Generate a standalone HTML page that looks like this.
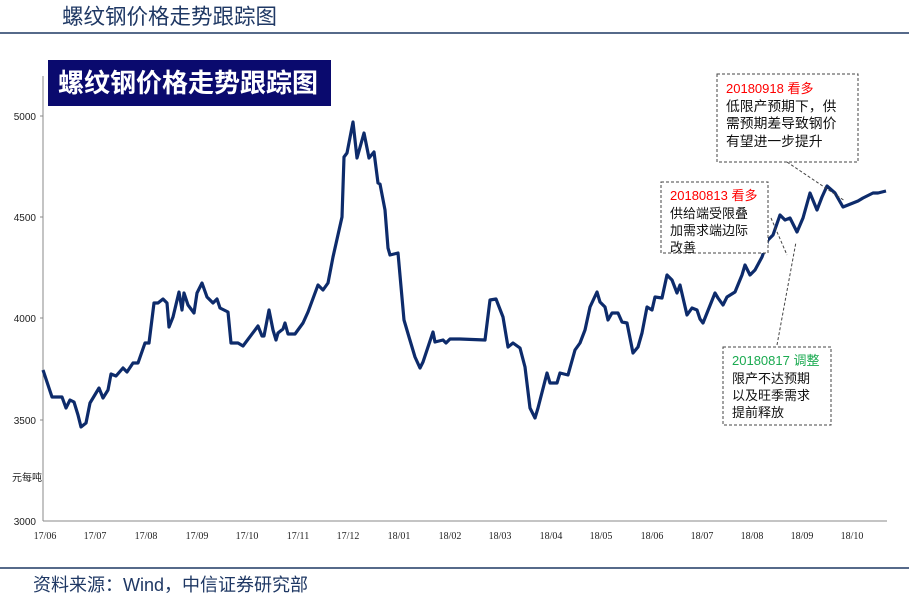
<!DOCTYPE html>
<html><head><meta charset="utf-8"><style>
body{margin:0;background:#fff;width:909px;height:596px;overflow:hidden;font-family:"Liberation Sans","Noto Sans CJK SC",sans-serif;}
</style></head><body>
<svg width="909" height="596" xmlns="http://www.w3.org/2000/svg" style="position:absolute;left:0;top:0">
<text x="62" y="24" font-size="21.5" fill="#1f3864" font-family="Noto Sans CJK SC,sans-serif">螺纹钢价格走势跟踪图</text>
<line x1="0" y1="33" x2="909" y2="33" stroke="#1f3864" stroke-width="1.5"/>
<rect x="48" y="60" width="283" height="46" fill="#0a0a6e"/>
<text x="58" y="92" font-size="26" fill="#fff" font-weight="bold" font-family="Noto Sans CJK SC,sans-serif">螺纹钢价格走势跟踪图</text>
<g stroke="#888" stroke-width="1">
<line x1="43" y1="76" x2="43" y2="521"/>
<line x1="43" y1="521" x2="887" y2="521"/>
<line x1="40" y1="116" x2="43" y2="116"/><line x1="40" y1="217" x2="43" y2="217"/><line x1="40" y1="318" x2="43" y2="318"/><line x1="40" y1="420" x2="43" y2="420"/>
</g>
<g font-size="10" fill="#222" text-anchor="end">
<text x="36" y="120">5000</text><text x="36" y="221">4500</text><text x="36" y="322">4000</text><text x="36" y="424">3500</text><text x="36" y="525">3000</text>
</g>
<text x="12" y="481" font-size="10" fill="#222" font-family="Noto Sans CJK SC,sans-serif">元每吨</text>
<g font-size="10" fill="#222" text-anchor="middle" font-family="Liberation Serif,serif">
<text x="45" y="539">17/06</text><text x="95" y="539">17/07</text><text x="146" y="539">17/08</text><text x="197" y="539">17/09</text><text x="247" y="539">17/10</text><text x="298" y="539">17/11</text><text x="348" y="539">17/12</text><text x="399" y="539">18/01</text><text x="450" y="539">18/02</text><text x="500" y="539">18/03</text><text x="551" y="539">18/04</text><text x="601" y="539">18/05</text><text x="652" y="539">18/06</text><text x="702" y="539">18/07</text><text x="752" y="539">18/08</text><text x="802" y="539">18/09</text><text x="852" y="539">18/10</text>
</g>
<polyline fill="none" stroke="#0d2b6b" stroke-width="3.2" stroke-linejoin="round" points="43,370 52,397 62,397 66,408 70,400 74,402 78,415 81,427 86,423 90,403 99,388 103,398 108,390 111,374 116,376 123,368 127,372 133,363 138,363 145,343 149,343 154,303 158,303 163,299 167,303 169,327 173,317 179,292 182,310 184,293 188,305 194,313 197,293 202,283 207,297 213,303 217,299 220,308 228,312 231,343 238,343 243,346 258,326 262,336 264,336 269,310 273,330 276,340 278,333 283,329 285,323 288,334 295,334 303,323 308,312 318,285 323,290 328,283 333,257 342,217 344,157 347,153 353,122 357,158 364,133 369,158 374,152 378,183 380,184 385,210 388,248 390,255 398,253 404,320 409,337 415,357 420,368 423,362 433,332 435,342 443,340 446,343 450,339 460,339 485,340 490,300 496,299 503,317 508,347 513,343 520,348 525,367 530,408 535,418 538,408 547,373 550,383 557,383 560,373 568,375 575,350 580,343 585,330 590,307 597,292 600,302 605,307 608,320 612,313 618,313 622,322 627,323 633,353 638,347 642,333 647,307 652,310 655,297 662,298 667,275 672,280 677,293 680,285 687,315 692,308 697,310 700,319 703,323 709,308 715,293 718,298 723,305 727,297 735,292 742,275 745,265 750,275 755,270 762,257 768,240 773,235 780,215 785,220 790,218 797,232 803,218 810,193 817,210 822,197 827,186 835,193 843,207 858,201 863,198 873,193 878,193 886,191"/>
<g fill="#fff" stroke="#444" stroke-dasharray="3,2" stroke-width="1">
<rect x="717" y="74" width="141" height="88"/>
<rect x="661" y="182" width="107" height="71"/>
<rect x="723" y="347" width="108" height="78"/>
<line x1="787" y1="162" x2="845" y2="201"/>
<line x1="771" y1="218" x2="787" y2="255"/>
<line x1="777" y1="345" x2="796" y2="242"/>
</g>
<g font-size="13" fill="#111" font-family="Liberation Sans,Noto Sans CJK SC,sans-serif">
<text x="726" y="93" fill="#f00">20180918 看多</text>
<text x="726" y="111" font-size="13.8">低限产预期下，供</text><text x="726" y="128" font-size="13.8">需预期差导致钢价</text><text x="726" y="146" font-size="13.8">有望进一步提升</text>
<text x="670" y="200" fill="#f00">20180813 看多</text>
<text x="670" y="218">供给端受限叠</text><text x="670" y="235">加需求端边际</text><text x="670" y="252">改善</text>
<text x="732" y="365" fill="#1aaa50">20180817 调整</text>
<text x="732" y="383">限产不达预期</text><text x="732" y="400">以及旺季需求</text><text x="732" y="417">提前释放</text>
</g>
<line x1="0" y1="568" x2="909" y2="568" stroke="#1f3864" stroke-width="1.5"/>
<text x="33" y="591" font-size="18" fill="#1f3864" font-family="Liberation Sans,Noto Sans CJK SC,sans-serif">资料来源：Wind，中信证券研究部</text>
</svg>
</body></html>
